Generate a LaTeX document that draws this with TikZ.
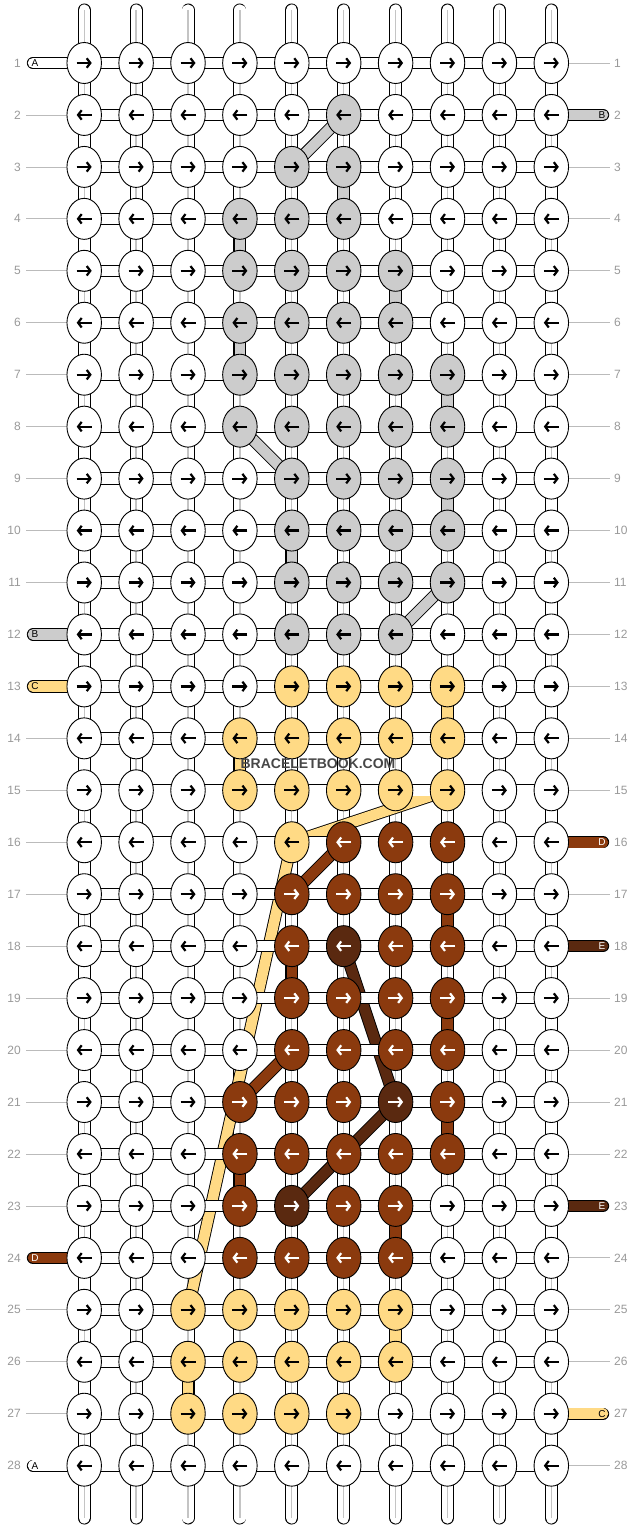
\documentclass[tikz,border=0pt]{standalone}
\usepackage{fontspec}
\setmainfont{Liberation Sans}
\usetikzlibrary{shapes.geometric,arrows.meta}
\definecolor{colA}{HTML}{FFFFFF}
\definecolor{colB}{HTML}{CCCCCC}
\definecolor{colC}{HTML}{FFDA85}
\definecolor{colD}{HTML}{8B3A0E}
\definecolor{colE}{HTML}{5A2910}
\definecolor{numgray}{HTML}{999999}
\definecolor{rulegray}{HTML}{BBBBBB}
\definecolor{warpgray}{HTML}{C4C4C4}
\definecolor{markgray}{HTML}{474747}
\pgfdeclarelayer{warp}
\pgfdeclarelayer{band}
\pgfdeclarelayer{link}
\pgfsetlayers{warp,band,link,main}
\tikzset{
  knot/.style={ellipse,draw=black,line width=0.9pt,minimum width=34.5pt,minimum height=41pt,inner sep=0pt},
  knA/.style={fill=colA},knB/.style={fill=colB},knC/.style={fill=colC},knD/.style={fill=colD},knE/.style={fill=colE},
  arr/.style={line width=2.2pt,-{Straight Barb[length=3.6pt,width=9.5pt]}},
  arrA/.style={black},arrB/.style={black},arrC/.style={black},arrD/.style={white},arrE/.style={white},
  warptube/.style={draw=black,line width=0.9pt,double=white,double distance=11.2pt,line cap=round},
  warpline/.style={warpgray,line width=1.3pt},
  hlink/.style={draw=black,line width=0.9pt,double=white,double distance=10.5pt},
  endtube/.style={draw=black,line width=0.9pt,double distance=10.5pt,line cap=round},
  strandband/.style={draw=black,line width=0.9pt,double distance=10.5pt},
  rowrule/.style={rulegray,line width=0.8pt},
  num/.style={text=numgray,font=\fontsize{12}{12}\selectfont,inner sep=0pt},
  lab/.style={font=\fontsize{10}{10}\selectfont,inner sep=0pt},
  labA/.style={text=black},labB/.style={text=black},labC/.style={text=black},labD/.style={text=white},labE/.style={text=white}
}
\begin{document}
\begin{tikzpicture}[x=1pt,y=-1pt]
\useasboundingbox (0,0) rectangle (636,1528);
% knots, row by row
\foreach \row [count=\r] in {
 {A,A,A,A,A,A,A,A,A,A},{A,A,A,A,A,B,A,A,A,A},{A,A,A,A,B,B,A,A,A,A},{A,A,A,B,B,B,A,A,A,A},
 {A,A,A,B,B,B,B,A,A,A},{A,A,A,B,B,B,B,A,A,A},{A,A,A,B,B,B,B,B,A,A},{A,A,A,B,B,B,B,B,A,A},
 {A,A,A,A,B,B,B,B,A,A},{A,A,A,A,B,B,B,B,A,A},{A,A,A,A,B,B,B,B,A,A},{A,A,A,A,B,B,B,A,A,A},
 {A,A,A,A,C,C,C,C,A,A},{A,A,A,C,C,C,C,C,A,A},{A,A,A,C,C,C,C,C,A,A},{A,A,A,A,C,D,D,D,A,A},
 {A,A,A,A,D,D,D,D,A,A},{A,A,A,A,D,E,D,D,A,A},{A,A,A,A,D,D,D,D,A,A},{A,A,A,A,D,D,D,D,A,A},
 {A,A,A,D,D,D,E,D,A,A},{A,A,A,D,D,D,D,D,A,A},{A,A,A,D,E,D,D,A,A,A},{A,A,A,D,D,D,D,A,A,A},
 {A,A,C,C,C,C,C,A,A,A},{A,A,C,C,C,C,C,A,A,A},{A,A,C,C,C,C,A,A,A,A},{A,A,A,A,A,A,A,A,A,A}}{
  \pgfmathsetmacro\yy{63+51.95*(\r-1)}
  \pgfmathsetmacro\axs{mod(\r,2)==1 ? -7.5 : 7.5}
  \pgfmathsetmacro\axe{mod(\r,2)==1 ? 7.5 : -7.5}
  \foreach \s [count=\c] in \row {
    \node[knot,kn\s] (k-\c-\r) at ({84.2+51.9*(\c-1)},\yy) {};
    \draw[arr,arr\s] ([xshift=\axs pt]k-\c-\r.center) -- ([xshift=\axe pt]k-\c-\r.center);
  }
}
% warp strands
\begin{pgfonlayer}{warp}
\foreach \c in {1,...,10}{
  \coordinate (top-\c) at (k-\c-1 |- 0,10);
  \coordinate (bot-\c) at (k-\c-28 |- 0,1518);
  \draw[warptube] (top-\c) -- (bot-\c);
  \draw[warpline] (top-\c) -- (bot-\c);
}
\end{pgfonlayer}
% weft A turning at the edges, coloured threads between rows
\begin{pgfonlayer}{band}
\foreach \r [evaluate=\r as \n using int(\r+1)] in {1,3,...,27}
  \draw[strandband,double=colA,double distance=11.2pt] (k-10-\r.center) -- (k-10-\n.center);
\foreach \r [evaluate=\r as \n using int(\r+1)] in {2,4,...,26}
  \draw[strandband,double=colA,double distance=11.2pt] (k-1-\r.center) -- (k-1-\n.center);
\foreach \c/\r/\cc/\rr/\s in {6/2/5/3/B,6/3/6/4/B,4/4/4/5/B,7/5/7/6/B,4/6/4/7/B,8/7/8/8/B,
  4/8/5/9/B,8/9/8/10/B,5/10/5/11/B,8/11/7/12/B,
  8/13/8/14/C,4/14/4/15/C,8/15/5/16/C,5/16/3/25/C,7/25/7/26/C,3/26/3/27/C,
  6/16/5/17/D,8/17/8/18/D,5/18/5/19/D,8/19/8/20/D,5/20/4/21/D,8/21/8/22/D,4/22/4/23/D,7/23/7/24/D,
  6/18/7/21/E,7/21/5/23/E}
  \draw[strandband,double=col\s] (k-\c-\r.center) -- (k-\cc-\rr.center);
\end{pgfonlayer}
% weft links along the rows, loose ends and rules
\begin{pgfonlayer}{link}
\foreach \r in {1,...,28}{
  \foreach \c [evaluate=\c as \n using int(\c+1)] in {1,...,9}
    \draw[hlink] (k-\c-\r.center) -- (k-\n-\r.center);
}
\foreach \r/\s in {1/A,12/B,13/C,24/D,28/A}{
  \coordinate (inl-\r) at (k-1-\r -| 33,0);
  \draw[endtube,double=col\s] (inl-\r) -- (k-1-\r.center);
}
\foreach \r/\s in {2/B,16/D,18/E,23/E,27/C}{
  \coordinate (inr-\r) at (k-10-\r -| 603,0);
  \draw[endtube,double=col\s] (inr-\r) -- (k-10-\r.center);
}
\foreach \r in {2,...,11,14,15,...,23,25,26,27}{
  \coordinate (rl-\r) at (k-1-\r -| 26,0);
  \draw[rowrule] (rl-\r) -- (k-1-\r.center);
}
\foreach \r in {1,3,4,...,15,17,19,20,21,22,24,25,26,28}{
  \coordinate (rr-\r) at (k-10-\r -| 610,0);
  \draw[rowrule] (k-10-\r.center) -- (rr-\r);
}
\end{pgfonlayer}
% thread letters and row numbers
\foreach \r/\s in {1/A,12/B,13/C,24/D,28/A}
  \node[lab,lab\s] (ll-\r) at (k-1-\r -| 35,0) {\s};
\foreach \r/\s in {2/B,16/D,18/E,23/E,27/C}
  \node[lab,lab\s] (lr-\r) at (k-10-\r -| 602,0) {\s};
\foreach \r in {1,...,28}{
  \node[num,anchor=east] (nl-\r) at (k-1-\r -| 21,0) {\r};
  \node[num,anchor=west] (nr-\r) at (k-10-\r -| 614,0) {\r};
}
\node[text=markgray,font=\bfseries\fontsize{14}{14}\selectfont,inner sep=0pt] (mark) at (318,764) {BRACELETBOOK.COM};
\end{tikzpicture}
\end{document}
